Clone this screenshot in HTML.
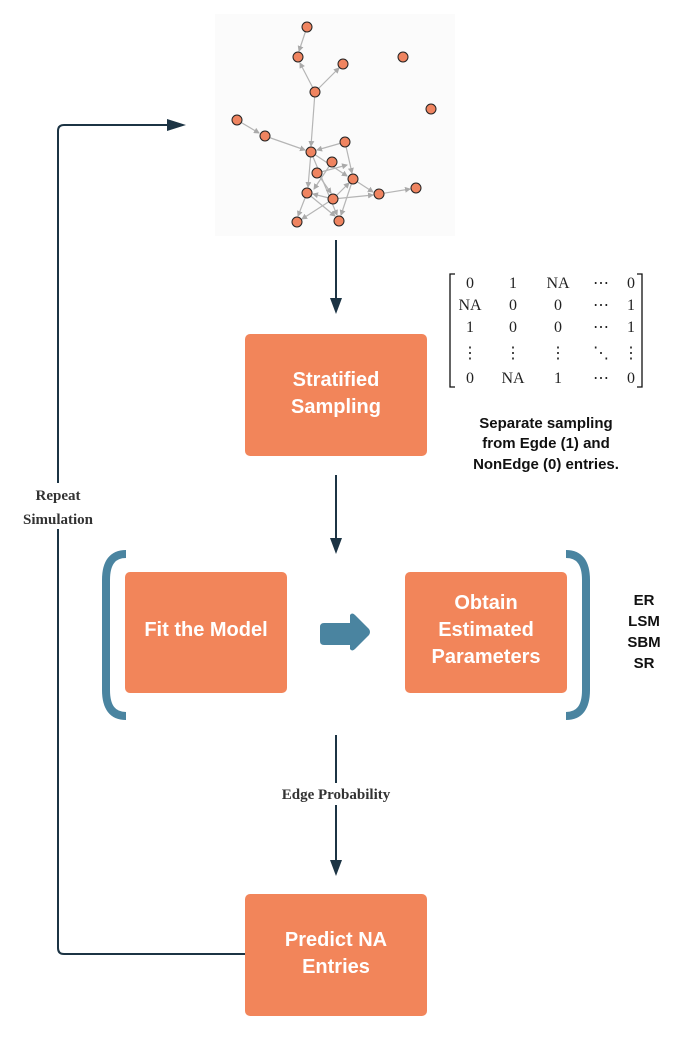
<!DOCTYPE html>
<html><head><meta charset="utf-8"><style>
body{margin:0;background:#fff;width:694px;height:1055px;overflow:hidden}
</style></head><body>
<svg width="694" height="1055" xmlns="http://www.w3.org/2000/svg" style="position:absolute;left:0;top:0">
<defs>
<marker id="ah" markerWidth="6" markerHeight="6" refX="5" refY="3" orient="auto" markerUnits="userSpaceOnUse"><path d="M0,0 L6,3 L0,6 z" fill="#aaa"/></marker>
</defs>
<rect x="215" y="14" width="240" height="222" fill="#fbfbfb"/>
<g stroke="#b5b5b5" stroke-width="1.2" fill="none" marker-end="url(#ah)">
<line x1="307" y1="27" x2="299" y2="51"/>
<line x1="315" y1="92" x2="300" y2="63"/>
<line x1="315" y1="92" x2="339" y2="68"/>
<line x1="315" y1="92" x2="311" y2="146"/>
<line x1="237" y1="120" x2="259" y2="133"/>
<line x1="265" y1="136" x2="305" y2="150"/>
<line x1="345" y1="142" x2="317" y2="150"/>
<line x1="345" y1="142" x2="352" y2="173"/>
<line x1="311" y1="152" x2="347" y2="176"/>
<line x1="311" y1="152" x2="308" y2="187"/>
<line x1="311" y1="152" x2="337" y2="215"/>
<line x1="332" y1="162" x2="314" y2="189"/>
<line x1="317" y1="173" x2="331" y2="193"/>
<line x1="353" y1="179" x2="341" y2="215"/>
<line x1="353" y1="179" x2="373" y2="192"/>
<line x1="333" y1="199" x2="313" y2="194"/>
<line x1="333" y1="199" x2="373" y2="195"/>
<line x1="379" y1="194" x2="410" y2="189"/>
<line x1="307" y1="193" x2="298" y2="216"/>
<line x1="333" y1="199" x2="302" y2="219"/>
<line x1="307" y1="193" x2="335" y2="216"/>
<line x1="317" y1="173" x2="347" y2="165"/>
<line x1="333" y1="199" x2="349" y2="183"/>
</g>
<g fill="#ef8460" stroke="#222" stroke-width="1">
<circle cx="307" cy="27" r="5"/><circle cx="298" cy="57" r="5"/><circle cx="343" cy="64" r="5"/>
<circle cx="403" cy="57" r="5"/><circle cx="315" cy="92" r="5"/><circle cx="431" cy="109" r="5"/>
<circle cx="237" cy="120" r="5"/><circle cx="265" cy="136" r="5"/><circle cx="345" cy="142" r="5"/>
<circle cx="311" cy="152" r="5"/><circle cx="332" cy="162" r="5"/><circle cx="317" cy="173" r="5"/>
<circle cx="353" cy="179" r="5"/><circle cx="307" cy="193" r="5"/><circle cx="333" cy="199" r="5"/>
<circle cx="379" cy="194" r="5"/><circle cx="416" cy="188" r="5"/><circle cx="297" cy="222" r="5"/>
<circle cx="339" cy="221" r="5"/>
</g>
<!-- connectors -->
<g stroke="#1c3444" stroke-width="2" fill="none">
<line x1="336" y1="240" x2="336" y2="300"/>
<line x1="336" y1="475" x2="336" y2="540"/>
<line x1="336" y1="735" x2="336" y2="862"/>
<path d="M245,954 H64 Q58,954 58,948 V131 Q58,125 64,125 H172"/>
</g>
<g fill="#1c3444">
<path d="M330,298 L342,298 L336,314 z"/>
<path d="M330,538 L342,538 L336,554 z"/>
<path d="M330,860 L342,860 L336,876 z"/>
<path d="M167,119 L186,125 L167,131 z"/>
</g>
<rect x="268" y="783" width="136" height="22" fill="#fff"/>
<text x="336" y="799" text-anchor="middle" font-family="Liberation Serif, serif" font-weight="bold" font-size="15" fill="#333">Edge Probability</text>
<rect x="18" y="483" width="82" height="46" fill="#fff"/>
<text x="58" y="500" text-anchor="middle" font-family="Liberation Serif, serif" font-weight="bold" font-size="15" fill="#333">Repeat</text>
<text x="58" y="524" text-anchor="middle" font-family="Liberation Serif, serif" font-weight="bold" font-size="15" fill="#333">Simulation</text>
<!-- boxes -->
<g fill="#f2855a">
<rect x="245" y="334" width="182" height="122" rx="5"/>
<rect x="125" y="572" width="162" height="121" rx="5"/>
<rect x="405" y="572" width="162" height="121" rx="5"/>
<rect x="245" y="894" width="182" height="122" rx="5"/>
</g>
<g font-family="Liberation Sans, sans-serif" font-weight="bold" font-size="20" fill="#fff" text-anchor="middle">
<text x="336" y="386">Stratified</text><text x="336" y="413">Sampling</text>
<text x="206" y="636">Fit the Model</text>
<text x="486" y="609">Obtain</text><text x="486" y="636">Estimated</text><text x="486" y="663">Parameters</text>
<text x="336" y="946">Predict NA</text><text x="336" y="973">Entries</text>
</g>
<!-- brackets -->
<g stroke="#4a84a0" stroke-width="8" fill="none">
<path d="M126,554 Q106,554 106,580 V690 Q106,716 126,716"/>
<path d="M566,554 Q586,554 586,580 V690 Q586,716 566,716"/>
</g>
<path d="M324,623 H350 V615 Q352,612 355,615 L369,629 Q371,632 369,635 L355,649 Q352,652 350,649 V645 H324 Q320,645 320,641 V627 Q320,623 324,623 z" fill="#4a84a0"/>
<!-- matrix -->
<g stroke="#111" stroke-width="1.3" fill="none">
<path d="M455,274 H450 V387 H455"/>
<path d="M637,274 H642 V387 H637"/>
</g>
<g font-family="Liberation Serif, serif" font-size="16" fill="#222" text-anchor="middle">
<text x="470" y="288">0</text><text x="513" y="288">1</text><text x="558" y="288">NA</text><text x="601" y="288">⋯</text><text x="631" y="288">0</text>
<text x="470" y="310">NA</text><text x="513" y="310">0</text><text x="558" y="310">0</text><text x="601" y="310">⋯</text><text x="631" y="310">1</text>
<text x="470" y="332">1</text><text x="513" y="332">0</text><text x="558" y="332">0</text><text x="601" y="332">⋯</text><text x="631" y="332">1</text>
<text x="470" y="358">⋮</text><text x="513" y="358">⋮</text><text x="558" y="358">⋮</text><text x="601" y="358">⋱</text><text x="631" y="358">⋮</text>
<text x="470" y="383">0</text><text x="513" y="383">NA</text><text x="558" y="383">1</text><text x="601" y="383">⋯</text><text x="631" y="383">0</text>
</g>
<g font-family="Liberation Sans, sans-serif" font-weight="bold" font-size="15" fill="#111" text-anchor="middle">
<text x="546" y="428">Separate sampling</text>
<text x="546" y="448">from Egde (1) and</text>
<text x="546" y="469">NonEdge (0) entries.</text>
<text x="644" y="605">ER</text><text x="644" y="626">LSM</text><text x="644" y="647">SBM</text><text x="644" y="668">SR</text>
</g>
</svg>
</body></html>
